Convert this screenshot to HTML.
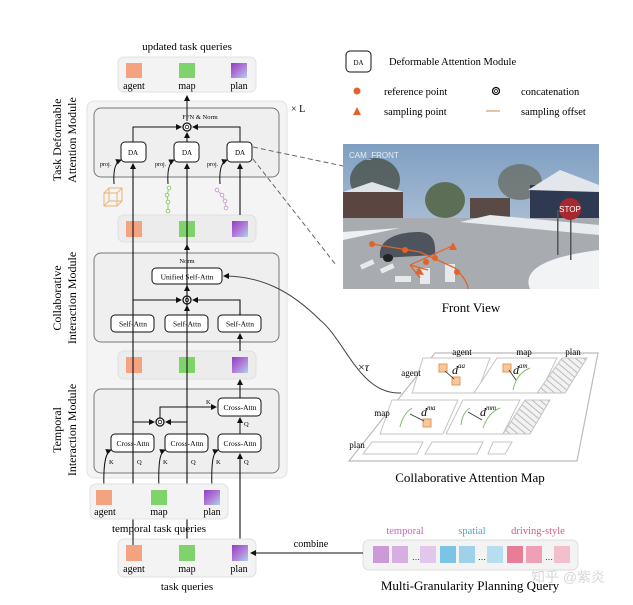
<!DOCTYPE html>
<html><head><meta charset="utf-8"><style>
html,body{margin:0;padding:0;background:#fff;}
svg{display:block;font-family:"Liberation Serif",serif;}
</style></head><body>
<svg width="633" height="605" viewBox="0 0 633 605" xmlns="http://www.w3.org/2000/svg">
<defs>
<marker id="ar" markerWidth="6" markerHeight="6" refX="5" refY="3" orient="auto" markerUnits="userSpaceOnUse"><path d="M0,0 L6,3 L0,6 z" fill="#111"/></marker>
<linearGradient id="pl" x1="0" y1="0" x2="1" y2="1"><stop offset="0" stop-color="#8e3fc0"/><stop offset="0.5" stop-color="#b07ad8"/><stop offset="1" stop-color="#a9d4f0"/></linearGradient>
<linearGradient id="sky" x1="0" y1="0" x2="0" y2="1"><stop offset="0" stop-color="#7f9fc2"/><stop offset="1" stop-color="#c9d6e2"/></linearGradient>
<pattern id="hatch" width="5" height="5" patternUnits="userSpaceOnUse" patternTransform="rotate(-50)"><rect width="5" height="5" fill="#f2f2f2"/><line x1="0" y1="0" x2="0" y2="5" stroke="#bbb" stroke-width="2"/></pattern>
</defs>

<!-- Left panel -->
<text x="187" y="50" font-size="11" text-anchor="middle">updated task queries</text>
<rect x="118" y="57" width="138" height="35" rx="6" fill="#f3f3f3" stroke="#e0e0e0"/>
<rect x="126" y="63" width="16" height="15" fill="#f4a381"/>
<rect x="179" y="63" width="16" height="15" fill="#7ed36a"/>
<rect x="231" y="63" width="16" height="15" fill="url(#pl)"/>
<g font-size="10" text-anchor="middle"><text x="134" y="89">agent</text><text x="187" y="89">map</text><text x="239" y="89">plan</text></g>

<rect x="87" y="101" width="200" height="377" rx="7" fill="#f4f4f4" stroke="#e2e2e2"/>
<text x="291" y="112" font-size="10">× L</text>

<!-- Task deformable -->
<rect x="94" y="108" width="185" height="69" rx="7" fill="#efefef" stroke="#777"/>
<text x="200" y="119" font-size="6.5" text-anchor="middle">FFN &amp; Norm</text>
<line x1="187" y1="121" x2="187" y2="96" stroke="#111" marker-end="url(#ar)"/>
<circle cx="187" cy="127" r="4" fill="#fff" stroke="#111" stroke-width="1.3"/><circle cx="187" cy="127" r="1.8" fill="none" stroke="#111" stroke-width="0.8"/>
<path d="M133,142 V127 H181" fill="none" stroke="#111" marker-end="url(#ar)"/>
<path d="M240,142 V127 H193" fill="none" stroke="#111" marker-end="url(#ar)"/>
<line x1="187" y1="142" x2="187" y2="133" stroke="#111" marker-end="url(#ar)"/>
<g font-size="7" text-anchor="middle">
<rect x="121" y="142" width="25" height="20" rx="4" fill="#fff" stroke="#111"/><text x="133" y="155">DA</text>
<rect x="174" y="142" width="25" height="20" rx="4" fill="#fff" stroke="#111"/><text x="187" y="155">DA</text>
<rect x="227" y="142" width="25" height="20" rx="4" fill="#fff" stroke="#111"/><text x="240" y="155">DA</text>
</g>
<g font-size="6"><text x="100" y="166">proj.</text><text x="155" y="166">proj.</text><text x="207" y="166">proj.</text></g>
<path d="M114,184 C113,168 116,162 121,160" fill="none" stroke="#111" marker-end="url(#ar)"/>
<path d="M168,184 C167,168 170,162 174,160" fill="none" stroke="#111" marker-end="url(#ar)"/>
<path d="M220,184 C219,168 222,162 227,160" fill="none" stroke="#111" marker-end="url(#ar)"/>
<!-- icons -->
<g stroke="#eab27a" fill="none" stroke-width="1"><rect x="104" y="193" width="13" height="13"/><rect x="109" y="188" width="13" height="13"/><line x1="104" y1="193" x2="109" y2="188"/><line x1="117" y1="193" x2="122" y2="188"/><line x1="104" y1="206" x2="109" y2="201"/><line x1="117" y1="206" x2="122" y2="201"/></g>
<g stroke="#8ecf6e" fill="#fff" stroke-width="1"><path d="M169,188 L167,195 L168,202 L168,211" fill="none"/><circle cx="169" cy="188" r="1.8"/><circle cx="167" cy="195" r="1.8"/><circle cx="168" cy="202" r="1.8"/><circle cx="168" cy="211" r="1.8"/></g>
<g stroke="#c9a8d8" fill="#fff" stroke-width="1"><path d="M217,190 L222,195 L225,201 L226,208" fill="none"/><circle cx="217" cy="190" r="1.8"/><circle cx="222" cy="195" r="1.8"/><circle cx="225" cy="201" r="1.8"/><circle cx="226" cy="208" r="1.8"/></g>

<rect x="118" y="215" width="138" height="27" rx="6" fill="#ececec" stroke="#e0e0e0"/>
<rect x="126" y="221" width="16" height="16" fill="#f4a381"/>
<rect x="179" y="221" width="16" height="16" fill="#7ed36a"/>
<rect x="232" y="221" width="16" height="16" fill="url(#pl)"/>

<!-- Collaborative -->
<rect x="94" y="253" width="185" height="89" rx="7" fill="#efefef" stroke="#777"/>
<text x="187" y="263" font-size="6.5" text-anchor="middle">Norm</text>
<line x1="187" y1="268" x2="187" y2="245" stroke="#111" marker-end="url(#ar)"/>
<rect x="152" y="268" width="70" height="16" rx="4" fill="#fff" stroke="#111"/>
<text x="187" y="279.5" font-size="7.5" text-anchor="middle">Unified Self-Attn</text>
<line x1="187" y1="296" x2="187" y2="286" stroke="#111" marker-end="url(#ar)"/>
<circle cx="187" cy="300" r="4" fill="#fff" stroke="#111" stroke-width="1.3"/><circle cx="187" cy="300" r="1.8" fill="none" stroke="#111" stroke-width="0.8"/>
<path d="M133,315 V300 H181" fill="none" stroke="#111" marker-end="url(#ar)"/>
<path d="M240,315 V300 H193" fill="none" stroke="#111" marker-end="url(#ar)"/>
<line x1="187" y1="315" x2="187" y2="306" stroke="#111" marker-end="url(#ar)"/>
<g font-size="7.5" text-anchor="middle">
<rect x="111" y="315" width="43" height="17" rx="4" fill="#fff" stroke="#111"/><text x="133" y="326.5">Self-Attn</text>
<rect x="165" y="315" width="43" height="17" rx="4" fill="#fff" stroke="#111"/><text x="187" y="326.5">Self-Attn</text>
<rect x="218" y="315" width="43" height="17" rx="4" fill="#fff" stroke="#111"/><text x="240" y="326.5">Self-Attn</text>
</g>

<rect x="118" y="351" width="138" height="28" rx="6" fill="#ececec" stroke="#e0e0e0"/>
<rect x="126" y="357" width="16" height="16" fill="#f4a381"/>
<rect x="179" y="357" width="16" height="16" fill="#7ed36a"/>
<rect x="232" y="357" width="16" height="16" fill="url(#pl)"/>

<!-- Temporal -->
<rect x="94" y="389" width="185" height="84" rx="7" fill="#efefef" stroke="#777"/>
<g font-size="7.5" text-anchor="middle">
<rect x="218" y="398" width="43" height="18" rx="4" fill="#fff" stroke="#111"/><text x="240" y="410">Cross-Attn</text>
<rect x="111" y="434" width="43" height="18" rx="4" fill="#fff" stroke="#111"/><text x="133" y="446">Cross-Attn</text>
<rect x="165" y="434" width="43" height="18" rx="4" fill="#fff" stroke="#111"/><text x="187" y="446">Cross-Attn</text>
<rect x="218" y="434" width="43" height="18" rx="4" fill="#fff" stroke="#111"/><text x="240" y="446">Cross-Attn</text>
</g>
<circle cx="160" cy="422" r="4" fill="#fff" stroke="#111" stroke-width="1.3"/><circle cx="160" cy="422" r="1.8" fill="none" stroke="#111" stroke-width="0.8"/>
<path d="M133,422 H154" fill="none" stroke="#111" marker-end="url(#ar)"/>
<path d="M187,422 H166" fill="none" stroke="#111" marker-end="url(#ar)"/>
<path d="M160,418 V407 H216" fill="none" stroke="#111" marker-end="url(#ar)"/>
<line x1="240" y1="434" x2="240" y2="418" stroke="#111" marker-end="url(#ar)"/>
<g font-size="6.5"><text x="206" y="404">K</text><text x="244" y="426">Q</text>
<text x="109" y="464">K</text><text x="137" y="464">Q</text><text x="163" y="464">K</text><text x="191" y="464">Q</text><text x="216" y="464">K</text><text x="244" y="464">Q</text></g>

<!-- main vertical lines -->
<line x1="133" y1="545" x2="133" y2="164" stroke="#111" stroke-width="1.1" marker-end="url(#ar)"/>
<line x1="187" y1="545" x2="187" y2="164" stroke="#111" stroke-width="1.1" marker-end="url(#ar)"/>
<line x1="240" y1="545" x2="240" y2="454" stroke="#111" stroke-width="1.1" marker-end="url(#ar)"/>
<line x1="240" y1="398" x2="240" y2="380" stroke="#111" stroke-width="1.1" marker-end="url(#ar)"/>
<line x1="240" y1="351" x2="240" y2="334" stroke="#111" stroke-width="1.1" marker-end="url(#ar)"/>
<line x1="240" y1="315" x2="240" y2="300" stroke="#111" stroke-width="1.1"/>
<line x1="240" y1="215" x2="240" y2="164" stroke="#111" stroke-width="1.1" marker-end="url(#ar)"/>
<!-- K curves -->
<path d="M104,490 C103,462 106,452 111,450" fill="none" stroke="#111" marker-end="url(#ar)"/>
<path d="M159,490 C158,462 160,452 165,450" fill="none" stroke="#111" marker-end="url(#ar)"/>
<path d="M212,490 C211,462 213,452 218,450" fill="none" stroke="#111" marker-end="url(#ar)"/>

<rect x="90" y="484" width="138" height="35" rx="6" fill="#f3f3f3" stroke="#e0e0e0"/>
<rect x="96" y="490" width="16" height="15" fill="#f4a381"/>
<rect x="151" y="490" width="16" height="15" fill="#7ed36a"/>
<rect x="204" y="490" width="16" height="15" fill="url(#pl)"/>
<g font-size="10" text-anchor="middle"><text x="105" y="515">agent</text><text x="159" y="515">map</text><text x="212" y="515">plan</text></g>
<text x="159" y="532" font-size="11" text-anchor="middle">temporal task queries</text>

<rect x="118" y="539" width="138" height="38" rx="6" fill="#f3f3f3" stroke="#e0e0e0"/>
<rect x="126" y="545" width="16" height="16" fill="#f4a381"/>
<rect x="179" y="545" width="16" height="16" fill="#7ed36a"/>
<rect x="232" y="545" width="16" height="16" fill="url(#pl)"/>
<line x1="133" y1="545" x2="133" y2="534" stroke="#111"/>
<g font-size="10" text-anchor="middle"><text x="134" y="572">agent</text><text x="187" y="572">map</text><text x="239" y="572">plan</text></g>
<text x="187" y="590" font-size="11" text-anchor="middle">task queries</text>

<!-- side labels -->
<g font-size="12" text-anchor="middle">
<text transform="translate(61,140) rotate(-90)">Task Deformable</text>
<text transform="translate(76,140) rotate(-90)">Attention Module</text>
<text transform="translate(61,298) rotate(-90)">Collaborative</text>
<text transform="translate(76,298) rotate(-90)">Interaction Module</text>
<text transform="translate(61,430) rotate(-90)">Temporal</text>
<text transform="translate(76,430) rotate(-90)">Interaction Module</text>
</g>

<!-- Legend -->
<rect x="346" y="51" width="25" height="21" rx="4" fill="#fff" stroke="#111"/>
<text x="358.5" y="65" font-size="7" text-anchor="middle">DA</text>
<text x="389" y="65" font-size="10.5">Deformable Attention Module</text>
<circle cx="357" cy="91" r="3.5" fill="#e2632a"/>
<text x="384" y="95" font-size="10.5">reference point</text>
<circle cx="496" cy="91" r="3.5" fill="#fff" stroke="#111" stroke-width="1.3"/><circle cx="496" cy="91" r="1.5" fill="none" stroke="#111" stroke-width="0.8"/>
<text x="521" y="95" font-size="10.5">concatenation</text>
<path d="M353,115 L357,107 L361,115 z" fill="#e2632a"/>
<text x="384" y="115" font-size="10.5">sampling point</text>
<line x1="486" y1="111" x2="500" y2="111" stroke="#c9874f" stroke-width="1"/>
<text x="521" y="115" font-size="10.5">sampling offset</text>

<!-- Dashed connectors -->
<line x1="253" y1="147" x2="343" y2="166" stroke="#666" stroke-dasharray="5,3"/>
<line x1="253" y1="159" x2="336" y2="265" stroke="#666" stroke-dasharray="5,3"/>

<!-- Photo -->
<g>
<rect x="343" y="144" width="256" height="145" fill="url(#sky)"/>
<ellipse cx="375" cy="180" rx="25" ry="22" fill="#4a5048" opacity="0.8"/>
<ellipse cx="445" cy="200" rx="20" ry="18" fill="#5c6f56"/>
<ellipse cx="520" cy="182" rx="22" ry="18" fill="#6a6e66" opacity="0.8"/>
<rect x="343" y="192" width="60" height="28" fill="#5b4540"/>
<path d="M343,192 L372,182 L403,192 z" fill="#dfe4e8"/>
<rect x="470" y="198" width="40" height="22" fill="#5a4a45"/>
<rect x="530" y="185" width="69" height="35" fill="#2f3a52"/>
<path d="M528,190 L560,170 L599,185 L599,192 z" fill="#e3e7ec"/>
<rect x="343" y="218" width="256" height="71" fill="#a8acb0"/>
<path d="M343,240 L400,228 L343,232 z" fill="#eef0f2"/>
<path d="M490,215 L599,225 L599,235 L460,222 z" fill="#e9ecef"/>
<path d="M530,289 C520,265 560,255 599,250 L599,289 z" fill="#f1f3f5"/>
<g fill="#eef0f2" opacity="0.9"><rect x="360" y="262" width="14" height="5" transform="rotate(-25 367 264)"/><rect x="380" y="266" width="14" height="5" transform="rotate(-25 387 268)"/><rect x="420" y="268" width="10" height="16"/><rect x="445" y="264" width="10" height="18"/><rect x="395" y="276" width="16" height="6"/></g>
<path d="M380,257 C378,240 395,232 420,232 C432,233 436,240 435,255 L380,258 z" fill="#4e545e"/>
<ellipse cx="388" cy="258" rx="5" ry="4" fill="#222"/>
<rect x="557" y="210" width="1.5" height="45" fill="#555"/>
<circle cx="570" cy="209" r="11" fill="#a8282f"/>
<text x="570" y="212" font-family="Liberation Sans,sans-serif" font-size="8" fill="#fff" text-anchor="middle">STOP</text>
<rect x="557" y="215" width="1.5" height="40" fill="#555" transform="translate(13,5)"/>
<text x="349" y="158" font-family="Liberation Sans,sans-serif" font-size="8" fill="#e8eef5">CAM_FRONT</text>
<path d="M372,244 L420,252 L455,268 C465,278 468,285 468,289" fill="none" stroke="#e2632a" stroke-width="1.3"/>
<path d="M410,265 L452,246 M410,265 L428,270 M410,265 L420,278" stroke="#e2632a" stroke-width="1.2"/>
<circle cx="372" cy="244" r="3" fill="#e2632a"/><circle cx="405" cy="250" r="3" fill="#e2632a"/><circle cx="435" cy="258" r="3" fill="#e2632a"/><circle cx="457" cy="272" r="3" fill="#e2632a"/><circle cx="426" cy="262" r="3" fill="#e2632a"/>
<path d="M449,250 L453,242 L457,250 z" fill="#e2632a"/><path d="M415,274 L419,267 L424,275 z" fill="#e2632a"/>
</g>
<text x="471" y="312" font-size="13" text-anchor="middle">Front View</text>

<!-- curve to collab map -->
<path d="M401,393 C360,395 345,340 320,320 C290,290 260,276 224,276" fill="none" stroke="#444" marker-end="url(#ar)"/>
<text x="358" y="371" font-size="12">×<tspan font-style="italic">τ</tspan></text>

<!-- Collab map -->
<polygon points="435,353 598,353 577,461 349,461" fill="#fff" stroke="#bbb" stroke-width="1.2"/>
<g fill="#fff" stroke="#c4c4c4">
<polygon points="423,358 490,358 477,393 412,393"/>
<polygon points="497,358 557,358 540,393 474,393"/>
<polygon points="392,400 458,400 443,434 380,434"/>
<polygon points="463,400 520,400 503,434 446,434"/>
<polygon points="372,442 423,442 417,454 363,454"/>
<polygon points="432,442 483,442 477,454 425,454"/>
<polygon points="493,442 512,442 505,454 488,454"/>
</g>
<polygon points="562,358 587,358 565,393 537,393" fill="url(#hatch)" stroke="#c4c4c4"/>
<polygon points="525,400 550,400 530,434 503,434" fill="url(#hatch)" stroke="#c4c4c4"/>
<g font-size="9" text-anchor="middle"><text x="462" y="355">agent</text><text x="524" y="355">map</text><text x="573" y="355">plan</text><text x="411" y="376">agent</text><text x="382" y="416">map</text><text x="357" y="448">plan</text></g>
<g font-size="12" font-style="italic"><text x="452" y="374">d<tspan font-size="7" dy="-6">aa</tspan></text><text x="513" y="374">d<tspan font-size="7" dy="-6">am</tspan></text><text x="421" y="416">d<tspan font-size="7" dy="-6">ma</tspan></text><text x="480" y="416">d<tspan font-size="7" dy="-6">mm</tspan></text></g>
<g fill="#f7c89a" stroke="#e09a55"><rect x="439" y="364" width="8" height="8"/><rect x="452" y="377" width="8" height="8"/><rect x="503" y="364" width="8" height="8"/><rect x="423" y="419" width="8" height="8"/></g>
<g stroke="#7fbf6a" fill="none" stroke-width="1"><path d="M513,390 C515,380 520,372 530,368"/><path d="M400,427 C402,418 406,412 412,408"/><path d="M461,425 C462,417 464,412 470,408"/><path d="M483,428 C486,420 490,412 500,408"/></g>
<g stroke="#333" stroke-width="0.8"><line x1="445" y1="371" x2="454" y2="379"/><line x1="509" y1="370" x2="516" y2="380"/><line x1="410" y1="414" x2="424" y2="421"/><line x1="468" y1="412" x2="482" y2="420"/></g>
<text x="470" y="482" font-size="13" text-anchor="middle">Collaborative Attention Map</text>

<!-- Multi-granularity -->
<g font-size="10.5" text-anchor="middle"><text x="405" y="534" fill="#c266c8">temporal</text><text x="472" y="534" fill="#4aa8c8">spatial</text><text x="538" y="534" fill="#d45a7c">driving-style</text></g>
<rect x="363" y="540" width="215" height="30" rx="6" fill="#f3f3f3" stroke="#ddd"/>
<rect x="373" y="546" width="16" height="17" fill="#cc99d9"/><rect x="392" y="546" width="16" height="17" fill="#d7ade2"/><text x="412" y="560" font-size="8">…</text><rect x="420" y="546" width="16" height="17" fill="#e3c7ea"/>
<rect x="440" y="546" width="16" height="17" fill="#7cc4e4"/><rect x="459" y="546" width="16" height="17" fill="#9fd2ea"/><text x="478" y="560" font-size="8">…</text><rect x="487" y="546" width="16" height="17" fill="#b6def0"/>
<rect x="507" y="546" width="16" height="17" fill="#e87d95"/><rect x="526" y="546" width="16" height="17" fill="#f0a0b5"/><text x="545" y="560" font-size="8">…</text><rect x="554" y="546" width="16" height="17" fill="#f4bfcc"/>
<line x1="363" y1="553" x2="251" y2="553" stroke="#111" marker-end="url(#ar)"/>
<text x="311" y="547" font-size="10" text-anchor="middle">combine</text>
<text x="470" y="590" font-size="13" text-anchor="middle">Multi-Granularity Planning Query</text>
<text x="568" y="582" font-family="Liberation Sans,'Noto Sans CJK SC',sans-serif" font-size="14" fill="#d8d8d8" text-anchor="middle">知乎 @紫炎</text>
</svg>
</body></html>
